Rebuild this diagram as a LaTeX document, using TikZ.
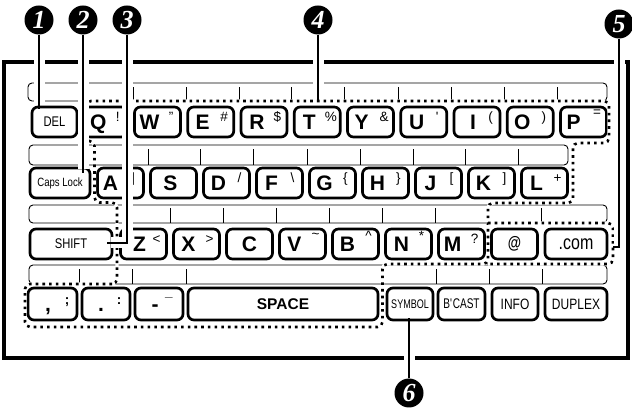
\documentclass[tikz,border=0pt]{standalone}
\usepackage{fontspec}
\setmainfont{Liberation Sans}
\newfontfamily\narrowsans[FakeStretch=0.8]{Liberation Sans}
\newfontfamily\condsans[FakeStretch=0.72]{Liberation Sans}
\newfontfamily\badgefont{Liberation Serif}
\begin{document}
\begin{tikzpicture}[x=1pt, y=-1pt,
    keycap/.style={draw, line width=2.7pt, rounded corners=6pt, fill=white, minimum width=46pt, minimum height=30pt, inner sep=0pt},
    bigkey/.style={keycap, minimum height=32pt},
    fnkey/.style={keycap, font=\narrowsans\fontsize{14}{14}\selectfont},
    letter/.style={font=\fontsize{21}{21}\selectfont\bfseries, anchor=base, inner sep=0pt},
    supmark/.style={font=\fontsize{13.5}{13.5}\selectfont, anchor=base, inner sep=0pt},
    supbold/.style={supmark, font=\fontsize{13.5}{13.5}\selectfont\bfseries},
    strip/.style={draw, line width=0.9pt, rounded corners=4pt},
    tick/.style={line width=0.9pt},
    zone/.style={line width=2.6pt, dash pattern=on 2.6pt off 4.1pt, rounded corners=5pt, preaction={draw, white, solid, line width=3.4pt}},
    casing/.style={white, line width=11pt, shorten >=4pt},
    leader/.style={line width=2.8pt},
    badge/.style={circle, fill=black, text=white, minimum size=29pt, inner sep=0pt, font=\badgefont\fontsize{26}{26}\selectfont\bfseries\itshape}]
  \path[fill=white, use as bounding box] (0,0) rectangle (632,411);
  \draw[line width=3.4pt] (4,62) rectangle (628,358);

  \draw[strip] (28,83) rectangle (607,101);
  \draw[strip] (29,145) rectangle (568,165);
  \draw[strip] (29,205) rectangle (607,223);
  \draw[strip] (29,265) rectangle (607,284);
  \foreach \x in {133,186,239,291,344,398,451,504,557}
    \draw[tick] (\x,101) -- (\x,87);
  \foreach \x in {148,200,253,307,360,413,465,518}
    \draw[tick] (\x,165) -- (\x,149);
  \foreach \x in {170,223,276,329,382,435,541}
    \draw[tick] (\x,223) -- (\x,208);
  \foreach \x in {79,132,186,436,489,542}
    \draw[tick] (\x,284) -- (\x,269);

  \node[fnkey, minimum width=45pt] (kDel) at (54.5,122) {DEL};
  \foreach \ch/\sy/\dx [count=\i from 0] in {Q/!/-6, W/{"}/-8, E/\#/-8, R/\$/-7, T/\%/-8, Y/\&/-9, U/\textquotesingle/-7, I/{(}/-4, O/{)}/-8, P/\raisebox{5pt}{=}/-10}
  {
    \node[keycap] (k\ch) at (104.25+53.25*\i,122) {};
    \node[letter] at ([xshift=\dx pt, yshift=-7.5pt]k\ch.center) {\ch};
    \node[supmark] at ([xshift=13.5pt]k\ch.center) {\sy};
  }

  \node[fnkey, minimum width=60pt, font=\narrowsans\fontsize{12}{12}\selectfont] (kCaps) at (60,183) {Caps Lock};
  \foreach \ch/\sy/\dx [count=\i from 0] in {A/\textbar/-10, S/{}/-3, D/\slash/-8, F/\textbackslash/-8, G/\{/-8, H/\}/-8, J/{[}/-8, K/{]}/-8, L/+/-8}
  {
    \node[keycap] (k\ch) at (120.5+53*\i,183) {};
    \node[letter] at ([xshift=\dx pt, yshift=-7.5pt]k\ch.center) {\ch};
    \node[supmark] at ([xshift=13pt]k\ch.center) {\sy};
  }

  \node[fnkey, minimum width=82pt] (kShift) at (71,244) {SHIFT};
  \foreach \ch/\sy/\dx [count=\i from 0] in {Z/</-4, X/>/-8, C/{}/0, V/\raisebox{5pt}{\textasciitilde}/-8, B/\raisebox{3pt}{\textasciicircum}/-8, N/\raisebox{3pt}{*}/-7, M/?/-9}
  {
    \node[keycap] (k\ch) at (143.5+53*\i,244) {};
    \node[letter] at ([xshift=\dx pt, yshift=-7.5pt]k\ch.center) {\ch};
    \node[supmark] at ([xshift=13pt]k\ch.center) {\sy};
  }
  \node[keycap, font=\narrowsans\fontsize{17}{17}\selectfont\bfseries] (kAt) at (514.5,244) {@};
  \node[keycap, minimum width=62pt, font=\narrowsans\fontsize{20}{20}\selectfont] (kCom) at (576,244) {.com};

  \node[bigkey, minimum width=49pt] (kComma) at (52.5,304) {};
  \node[letter] at ([xshift=-4.5pt, yshift=-7.5pt]kComma.center) {,};
  \node[supbold] at ([xshift=14.5pt, yshift=-1pt]kComma.center) {;};
  \node[bigkey, minimum width=48pt] (kDot) at (106,304) {};
  \node[letter] at ([xshift=-5pt, yshift=-7.5pt]kDot.center) {.};
  \node[supbold] at ([xshift=13pt, yshift=-1pt]kDot.center) {:};
  \node[bigkey, minimum width=48pt] (kDash) at (159,304) {};
  \node[letter] at ([xshift=-4pt, yshift=-7.5pt]kDash.center) {-};
  \node[supbold] at ([xshift=10pt, yshift=7pt]kDash.center) {\_};
  \node[bigkey, minimum width=190pt, font=\fontsize{15.5}{15.5}\selectfont\bfseries] (kSpace) at (283,304) {SPACE};
  \node[bigkey, font=\condsans\fontsize{12.5}{12.5}\selectfont] (kSymbol) at (410,304) {SYMBOL};
  \node[bigkey, minimum width=47pt, font=\condsans\fontsize{14}{14}\selectfont] (kBcast) at (461.5,304) {B\textquotesingle CAST};
  \node[bigkey, font=\narrowsans\fontsize{15}{15}\selectfont] (kInfo) at (515,304) {INFO};
  \node[bigkey, minimum width=62pt, font=\narrowsans\fontsize{15}{15}\selectfont] (kDuplex) at (576,304) {DUPLEX};

  \draw[zone] (117,284) -- (25,284) -- (25,327) -- (382.5,327) -- (382.5,264) -- (488,264) -- (488,203) -- (573,203) -- (573,143) -- (609,143) -- (609,101) -- (86,101) -- (86,141) -- (94.5,141) -- (94.5,202.5) -- (117,202.5) -- cycle;
  \draw[zone] (488,223) -- (613,223) -- (613,264) -- (488,264);

  \node[badge] (n1) at (39,20) {1};
  \node[badge] (n2) at (83,20) {2};
  \node[badge] (n3) at (127,20) {3};
  \node[badge] (n4) at (318,20) {4};
  \node[badge] (n5) at (619,24) {5};
  \node[badge] (n6) at (409,393) {6};
  \coordinate (e1) at (39,109);
  \coordinate (e2) at (83,173);
  \coordinate (e3) at (107,243);
  \coordinate (e4) at (318,100);
  \coordinate (e5) at (613,247);
  \coordinate (e6) at (409,318);
  \draw[casing] (n1) -- (e1);
  \draw[casing] (n2) -- (e2);
  \draw[casing] (n3) |- (e3);
  \draw[casing] (n4) -- (e4);
  \draw[casing] (n5) |- (e5);
  \draw[casing] (n6) -- (e6);
  \draw[leader] (n1) -- (e1);
  \draw[leader] (n2) -- (e2);
  \draw[leader] (n3) |- (e3);
  \draw[leader] (n4) -- (e4);
  \draw[leader] (n5) |- (e5);
  \draw[leader] (n6) -- (e6);
\end{tikzpicture}
\end{document}
